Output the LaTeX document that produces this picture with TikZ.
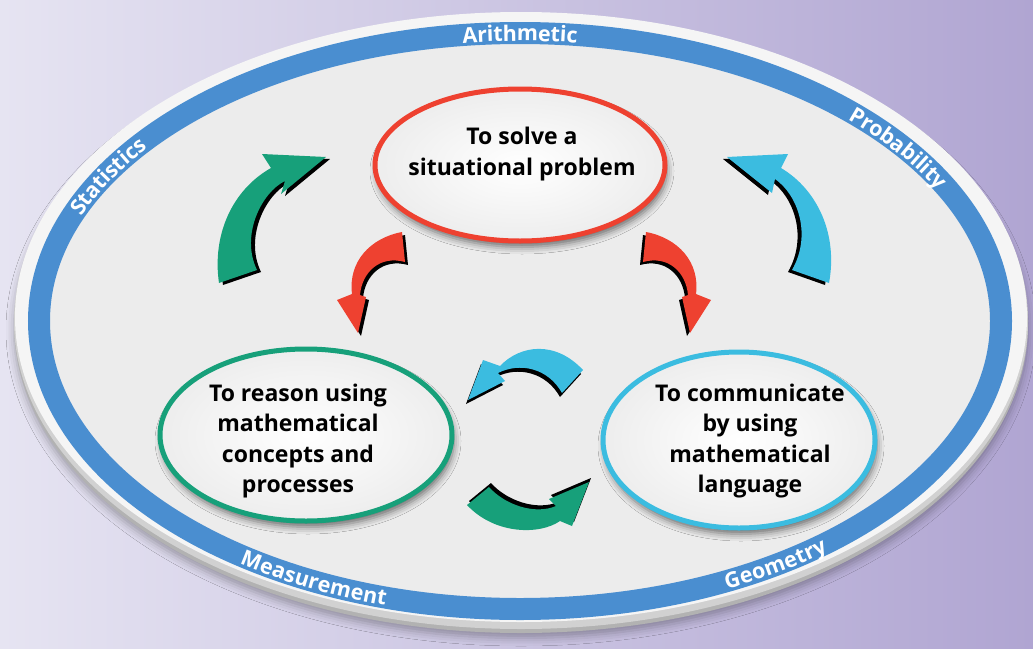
\documentclass[tikz,border=0pt]{standalone}
\usepackage{fontspec}
\setmainfont{Open Sans}
\usetikzlibrary{shapes.geometric,shadows.blur,decorations.text}
\definecolor{bgl}{HTML}{E6E4F2}
\definecolor{bgr}{HTML}{B0A5D2}
\definecolor{ringblue}{HTML}{4A8ED0}
\definecolor{rimc}{HTML}{F5F5F5}
\definecolor{innerc}{HTML}{ECECEC}
\definecolor{redc}{HTML}{EE4130}
\definecolor{greenc}{HTML}{17A07A}
\definecolor{cyanc}{HTML}{3BBCE0}
\newcommand\ringfont{\bfseries\color{white}\fontsize{21.5}{21.5}\selectfont}
\tikzset{
  bubble/.style={ellipse, line width=5pt, shade, inner color=white, outer color=black!7,
    blur shadow={shadow xshift=2pt, shadow yshift=-6pt, shadow opacity=55, shadow blur radius=7pt}},
  lbl/.style={align=center, font=\bfseries\fontsize{23}{30.5}\selectfont, text=black},
  ringtext/.style={decorate, decoration={text along path, text={|\ringfont|#1}, text align=center, raise=-8pt}},
  arrA/.style={insert path={(219,283) .. controls (212,235) and (232,190) .. (271,168) -- (262,154) -- (326,157) -- (281,194) -- (285,181) .. controls (262,192) and (240,235) .. (257,270) -- cycle}},
  arrB/.style={insert path={(829,283) .. controls (838,235) and (818,190) .. (781,168) -- (788,154) -- (727,157) -- (772,193) -- (775,179) .. controls (798,195) and (812,235) .. (792,270) -- cycle}},
  arrC/.style={insert path={(402,232) .. controls (370,238) and (348,262) .. (352,294) -- (337,300) -- (358,333) -- (366,297) -- (360,295) .. controls (362,272) and (380,255) .. (405,262) -- cycle}},
  arrD/.style={insert path={(646,232) .. controls (678,238) and (700,262) .. (696,294) -- (711,300) -- (690,333) -- (682,297) -- (688,295) .. controls (686,272) and (668,255) .. (643,262) -- cycle}},
  arrE/.style={insert path={(583,370) .. controls (555,340) and (520,345) .. (500,366) -- (483,360) -- (468,400) -- (505,381) -- (498,373) .. controls (520,362) and (548,368) .. (562,393) -- cycle}},
  arrF/.style={insert path={(467,505) .. controls (495,535) and (540,535) .. (560,521) -- (572,526) -- (589,482) -- (549,499) -- (556,506) .. controls (535,515) and (505,505) .. (489,487) -- cycle}},
}
\begin{document}
\begin{tikzpicture}[x=1pt,y=-1pt]
\useasboundingbox (0,0) rectangle (1033,648);
\shade[left color=bgl, right color=bgr] (0,0) rectangle (1033,648);
% outer rim
\fill[black!30, blur shadow={shadow xshift=0pt, shadow yshift=-5pt, shadow opacity=30, shadow blur radius=8pt}] (521,325) ellipse[x radius=507, y radius=308];
\fill[black!18] (521,321) ellipse[x radius=507, y radius=308];
\fill[rimc] (521,317) ellipse[x radius=506, y radius=305];
\coordinate (C) at (520,321);
\draw[ringblue, line width=22pt, fill=innerc] (C) ellipse[x radius=481, y radius=288];
% ring labels
\path[ringtext={Arithmetic}] (C) ++(250:481 and 288) arc[start angle=250, end angle=290, x radius=481, y radius=288];
\path[ringtext={Statistics}] (C) ++(183:481 and 288) arc[start angle=183, end angle=233, x radius=481, y radius=288];
\path[ringtext={Probability}] (C) ++(300:481 and 288) arc[start angle=300, end angle=350, x radius=481, y radius=288];
\path[ringtext={Measurement}] (C) ++(142:481 and 288) arc[start angle=142, end angle=92, x radius=481, y radius=288];
\path[ringtext={Geometry}] (C) ++(81:481 and 288) arc[start angle=81, end angle=31, x radius=481, y radius=288];
% bubbles
\node[bubble, draw=redc, minimum width=290pt, minimum height=152pt] (solve) at (520,165) {};
\node[bubble, draw=greenc, minimum width=292pt, minimum height=172pt] (reason) at (306,435) {};
\node[bubble, draw=cyanc, minimum width=272pt, minimum height=176pt] (comm) at (739,440) {};
\node[lbl] (solvetxt) at (522,154) {To solve a\\situational problem};
\node[lbl] (reasontxt) at (298,441) {To reason using\\mathematical\\concepts and\\processes};
\node[lbl] (commtxt) at (750,441) {To communicate\\by using\\mathematical\\language};
% arrows
\fill[black, shift={(4,2)}, arrA];
\fill[greenc, arrA];
\fill[black, shift={(-4,2)}, arrB];
\fill[cyanc, arrB];
\fill[black, shift={(3,3)}, arrC];
\fill[redc, arrC];
\fill[black, shift={(-3,3)}, arrD];
\fill[redc, arrD];
\fill[black, shift={(-2,4)}, arrE];
\fill[cyanc, arrE];
\fill[black, shift={(2,-4)}, arrF];
\fill[greenc, arrF];
\end{tikzpicture}
\end{document}
